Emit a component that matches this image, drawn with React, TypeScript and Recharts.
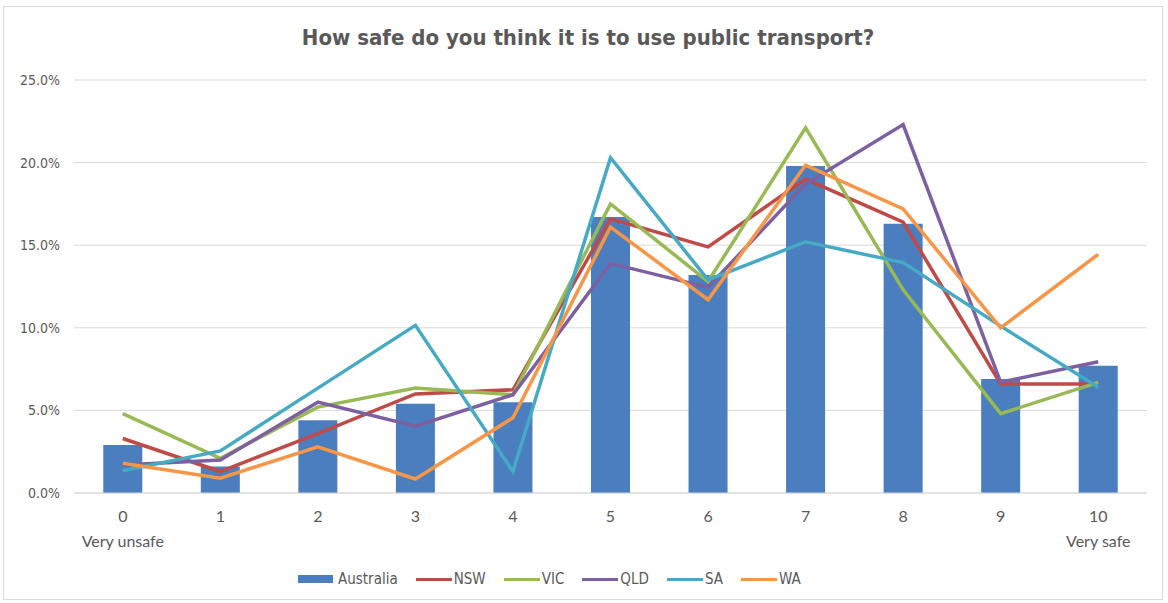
import React from 'react';
import { ComposedChart, Bar, Line, XAxis, YAxis, CartesianGrid } from 'recharts';

const categories = ['0', '1', '2', '3', '4', '5', '6', '7', '8', '9', '10'];
const subLabels = ['Very unsafe', '', '', '', '', '', '', '', '', '', 'Very safe'];
const australia = [2.9, 1.6, 4.4, 5.4, 5.5, 16.7, 13.2, 19.8, 16.3, 6.9, 7.7];
const nsw = [3.3, 1.3, 3.6, 6.0, 6.25, 16.6, 14.9, 19.0, 16.4, 6.6, 6.6];
const vic = [4.8, 2.1, 5.2, 6.35, 5.95, 17.5, 12.8, 22.1, 12.3, 4.8, 6.7];
const qld = [1.7, 2.0, 5.5, 4.05, 5.95, 13.9, 12.45, 18.7, 22.3, 6.7, 7.95];
const sa = [1.35, 2.55, 6.35, 10.15, 1.3, 20.3, 12.9, 15.2, 13.95, 10.1, 6.4];
const wa = [1.8, 0.9, 2.8, 0.85, 4.55, 16.1, 11.7, 19.85, 17.2, 10.0, 14.45];
const yTicks = [0, 5, 10, 15, 20, 25];

const title = 'How safe do you think it is to use public transport?';

const lineSeries = [
  { key: 'NSW', values: nsw, color: '#BE4B48' },
  { key: 'VIC', values: vic, color: '#98B954' },
  { key: 'QLD', values: qld, color: '#7D60A0' },
  { key: 'SA', values: sa, color: '#46AAC5' },
  { key: 'WA', values: wa, color: '#F79646' },
];
const barColor = '#4A7EBF';

const data = categories.map((c, i) => {
  const row: Record<string, any> = { cat: c, sub: subLabels[i], Australia: australia[i] };
  lineSeries.forEach((s) => {
    row[s.key] = s.values[i];
  });
  return row;
});

const condensed = '"DejaVu Sans Condensed", "Liberation Sans Narrow", sans-serif';
const textGray = '#595959';

const XTick = (props: any) => {
  const { x, y, payload, index } = props;
  const sub = subLabels[index] || '';
  return (
    <g transform={`translate(${x},${y})`}>
      <text x={0} y={0} dy={21} textAnchor="middle" fill={textGray} fontSize={16} fontFamily="Lato, sans-serif">
        {payload.value}
      </text>
      {sub ? (
        <text x={0} y={0} dy={46} textAnchor="middle" fill={textGray} fontSize={16} fontFamily="Lato, sans-serif">
          {sub}
        </text>
      ) : null}
    </g>
  );
};

export default function App() {
  return (
    <div style={{ position: 'absolute', left: 0, top: 0, width: 1168, height: 603, background: '#fff' }}>
      <div
        style={{
          position: 'absolute',
          left: 3,
          top: 6,
          width: 1160,
          height: 594,
          border: '1px solid #d9d9d9',
          boxSizing: 'border-box',
        }}
      />
      <div
        style={{
          position: 'absolute',
          left: 0,
          top: 25,
          width: 1176,
          textAlign: 'center',
          fontFamily: condensed,
          fontWeight: 'bold',
          fontSize: 22,
          color: textGray,
        }}
      >
        {title}
      </div>
      <div style={{ position: 'absolute', left: 0, top: 0 }}>
        <ComposedChart
          width={1168}
          height={603}
          data={data}
          margin={{ top: 80, right: 21, bottom: 50, left: 0 }}
          barCategoryGap="30%"
        >
          <CartesianGrid vertical={false} stroke="#d9d9d9" strokeWidth={1} />
          <XAxis
            dataKey="cat"
            height={60}
            tick={<XTick />}
            tickLine={false}
            axisLine={{ stroke: '#d9d9d9' }}
            interval={0}
          />
          <YAxis
            width={74}
            domain={[0, 25]}
            ticks={yTicks}
            tickFormatter={(v: number) => `${v.toFixed(1)}%`}
            axisLine={false}
            tickLine={false}
            tickSize={0}
            tickMargin={14}
            tick={{ fill: textGray, fontSize: 14, fontFamily: condensed }}
          />
          <Bar dataKey="Australia" fill={barColor} isAnimationActive={false} />
          {lineSeries.map((s) => (
            <Line
              key={s.key}
              type="linear"
              dataKey={s.key}
              stroke={s.color}
              strokeWidth={3.5}
              dot={false}
              activeDot={false}
              isAnimationActive={false}
            />
          ))}
        </ComposedChart>
      </div>
      <div
        style={{
          position: 'absolute',
          left: 298,
          top: 570,
          display: 'flex',
          alignItems: 'center',
          fontFamily: condensed,
          fontSize: 15,
          color: textGray,
          whiteSpace: 'nowrap',
        }}
      >
        <span style={{ display: 'inline-block', width: 35, height: 8, background: barColor, marginRight: 5 }} />
        <span style={{ marginRight: 18 }}>Australia</span>
        {lineSeries.map((s) => (
          <React.Fragment key={s.key}>
            <span style={{ display: 'inline-block', width: 36, height: 3, background: s.color, marginRight: 2 }} />
            <span style={{ marginRight: 18 }}>{s.key}</span>
          </React.Fragment>
        ))}
      </div>
    </div>
  );
}
